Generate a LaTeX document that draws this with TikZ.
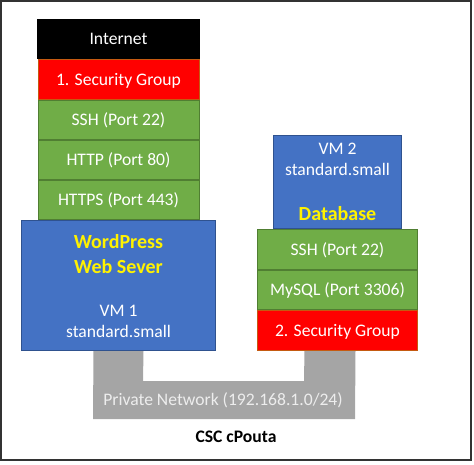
\documentclass[tikz,border=0pt]{standalone}
\usepackage{fontspec}
\setmainfont{Carlito}
\usetikzlibrary{positioning,calc}
\definecolor{sgred}{HTML}{FF0000}
\definecolor{sgedge}{HTML}{C55A11}
\definecolor{portgreen}{HTML}{70AD47}
\definecolor{portedge}{HTML}{507E32}
\definecolor{vmblue}{HTML}{4472C4}
\definecolor{vmedge}{HTML}{2F528F}
\definecolor{netgray}{HTML}{A5A5A5}
\definecolor{nettext}{HTML}{EDEDED}
\newcommand\txtsize{\fontsize{17.6}{21}\selectfont}
\newcommand\bigsize{\fontsize{20}{24}\selectfont\bfseries}
\tikzset{
  layer/.style={draw, line width=1pt, inner sep=0pt, text=white, font=\txtsize,
    text height=11pt, text depth=0pt},
  portbox/.style={layer, fill=portgreen, draw=portedge},
  sgbox/.style={layer, fill=sgred, draw=sgedge},
  vmbox/.style={draw=vmedge, fill=vmblue, line width=1pt, inner sep=0pt},
  vmtxt/.style={inner sep=0pt, text=white, font=\txtsize, text height=11pt, text depth=0pt},
  apptxt/.style={inner sep=0pt, text=yellow, font=\bigsize, text height=13pt, text depth=0pt}
}

\begin{document}
\begin{tikzpicture}[x=1pt,y=-1pt]
      \useasboundingbox (0,0) rectangle (474,464);
      \draw[line width=1.2pt, black!80] (1,1) rectangle (471,460);

      % left stack
      \node[layer, fill=black, draw=black, minimum width=162pt, minimum height=39pt, anchor=north west]
        (internet) at (37,19) {Internet};
      \node[sgbox, minimum width=161pt, minimum height=40pt, below=0pt of internet] (sg1) {1. Security Group};
      \node[portbox, minimum width=161pt, minimum height=39pt, below=0pt of sg1] (ssh1) {SSH (Port 22)};
      \node[portbox, minimum width=161pt, minimum height=39pt, below=0pt of ssh1] (http) {HTTP (Port 80)};
      \node[portbox, minimum width=161pt, minimum height=39pt, below=0pt of http] (https) {HTTPS (Port 443)};
      \node[vmbox, minimum width=194pt, minimum height=130pt, below=0pt of https] (vm1) {};
      \node[apptxt] (wp) at ($(vm1.north)+(0,22)$) {WordPress};
      \node[apptxt] (web) at ($(vm1.north)+(0,47)$) {Web Sever};
      \node[vmtxt] (vm1name) at ($(vm1.north)+(0,91)$) {VM 1};
      \node[vmtxt] (vm1type) at ($(vm1.north)+(0,112)$) {standard.small};

      % right stack
      \node[vmbox, minimum width=128pt, minimum height=93pt, anchor=north west] (vm2) at (273,135) {};
      \node[vmtxt] (vm2name) at ($(vm2.north)+(0,14)$) {VM 2};
      \node[vmtxt] (vm2type) at ($(vm2.north)+(0,35)$) {standard.small};
      \node[apptxt] (db) at ($(vm2.north)+(0,79)$) {Database};
      \node[portbox, minimum width=160pt, minimum height=40pt, below=0pt of vm2] (ssh2) {SSH (Port 22)};
      \node[portbox, minimum width=160pt, minimum height=39pt, below=0pt of ssh2] (mysql) {MySQL (Port 3306)};
      \node[sgbox, minimum width=160pt, minimum height=40pt, below=0pt of mysql] (sg2) {2. Security Group};

      % private network
      \fill[netgray] ($(vm1.south)+(-25,0)$) -- ($(vm1.south)+(25,0)$) -- (143,381)
        -- (304,381) -- ($(sg2.south)+(-33,0)$) -- ($(sg2.south)+(18,0)$) -- (355,419) -- (93,419) -- cycle;
      \node[inner sep=0pt, text=nettext, font=\txtsize, text height=11pt, text depth=0pt]
        (net) at (223,400) {Private Network (192.168.1.0/24)};
      \node[inner sep=0pt, font=\txtsize\bfseries, text height=11pt, text depth=0pt]
        (cloud) at (236,437) {CSC cPouta};
\end{tikzpicture}
\end{document}
